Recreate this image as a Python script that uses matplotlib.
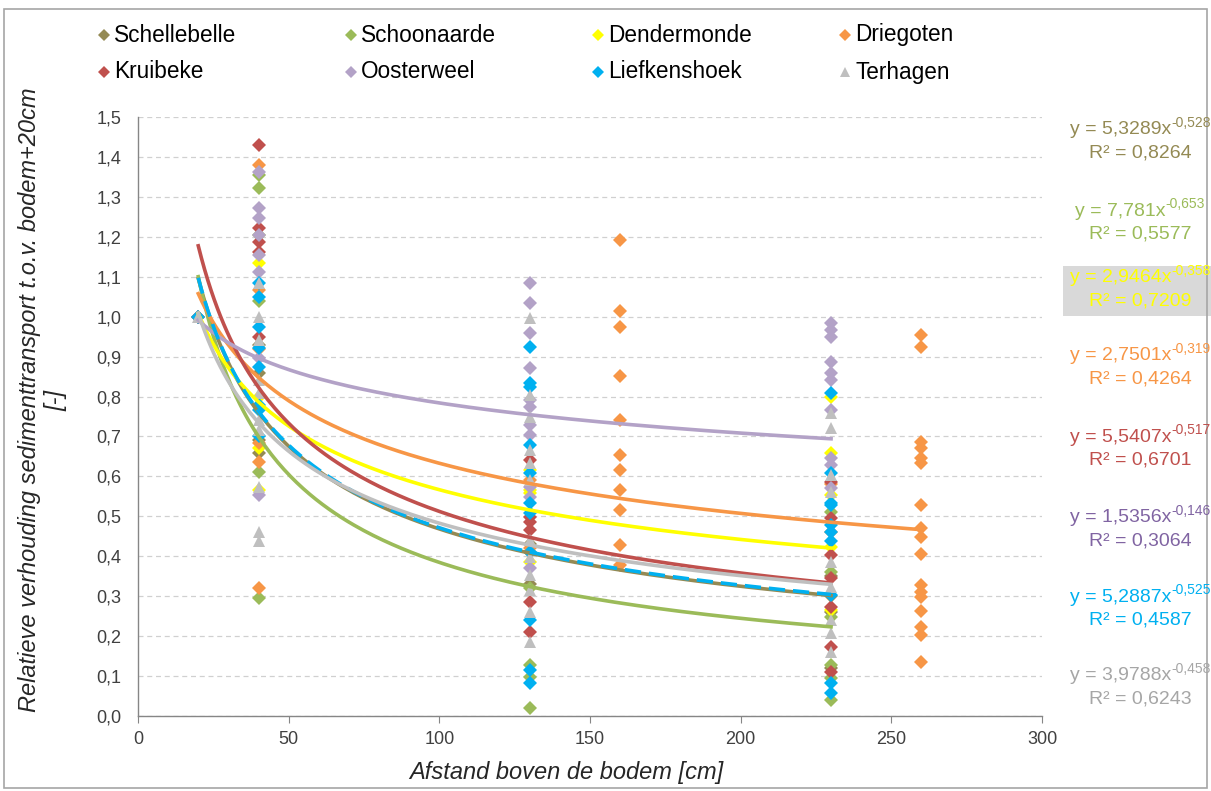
import numpy as np
import matplotlib
matplotlib.use("Agg")
import matplotlib.pyplot as plt
from matplotlib.lines import Line2D
from matplotlib.patches import Rectangle

plt.rcParams['font.family'] = ['Liberation Sans', 'DejaVu Sans']

# ---- measurement stations ----
stations = ["Schellebelle", "Schoonaarde", "Dendermonde", "Driegoten",
            "Kruibeke", "Oosterweel", "Liefkenshoek", "Terhagen"]
marker_colors = ["#948A54", "#9BBB59", "#FFFF00", "#F79646",
                 "#C0504D", "#B3A2C7", "#00B0F0", "#BFBFBF"]
text_colors = ["#948A54", "#9BBB59", "#FFFF00", "#F79646",
               "#C0504D", "#8064A2", "#00B0F0", "#A6A6A6"]
markers = ["D", "D", "D", "D", "D", "D", "D", "^"]

# ---- measured ratios per height above bed (cm) ----
schellebelle = {20: [1.0], 40: [0.658, 0.86, 0.93, 0.69], 130: [0.33, 0.43, 0.41],
                230: [0.26, 0.30, 0.35, 0.12]}
schoonaarde = {20: [1.0], 40: [1.355, 1.322, 1.205, 1.038, 0.612, 0.295],
               130: [0.128, 0.098, 0.019, 0.32], 230: [0.512, 0.361, 0.249, 0.128, 0.094, 0.040]}
dendermonde = {20: [1.0], 40: [1.134, 0.671, 0.566, 0.80], 130: [0.616, 0.566, 0.558, 0.386],
               230: [0.800, 0.658, 0.553, 0.424, 0.265]}
driegoten = {20: [1.0], 40: [1.380, 1.067, 0.92, 0.683, 0.637, 0.320], 130: [0.59, 0.42],
             160: [1.192, 1.015, 0.975, 0.852, 0.741, 0.654, 0.616, 0.566, 0.516, 0.428, 0.378],
             230: [0.58, 0.46],
             260: [0.955, 0.925, 0.687, 0.670, 0.645, 0.634, 0.528, 0.470, 0.449, 0.406,
                   0.328, 0.311, 0.299, 0.264, 0.224, 0.203, 0.134]}
kruibeke = {20: [1.0], 40: [1.430, 1.221, 1.188, 1.163, 0.95],
            130: [0.641, 0.499, 0.487, 0.466, 0.286, 0.211],
            230: [0.587, 0.495, 0.403, 0.345, 0.274, 0.174, 0.111]}
oosterweel = {20: [1.0], 40: [1.363, 1.271, 1.246, 1.205, 1.155, 1.113, 0.896, 0.553],
              130: [1.084, 1.034, 0.958, 0.871, 0.791, 0.775, 0.729, 0.704, 0.574, 0.549, 0.370],
              230: [0.983, 0.967, 0.950, 0.887, 0.858, 0.841, 0.766, 0.645, 0.629, 0.570]}
liefkenshoek = {20: [1.0], 40: [1.084, 1.05, 0.975, 0.921, 0.875, 0.766, 0.70, 0.78],
                130: [0.925, 0.833, 0.825, 0.679, 0.608, 0.533, 0.508, 0.411, 0.240, 0.115, 0.082],
                230: [0.808, 0.608, 0.533, 0.528, 0.478, 0.46, 0.437, 0.303, 0.082, 0.057]}
terhagen = {20: [1.0], 40: [1.084, 1.0, 0.942, 0.841, 0.81, 0.74, 0.716, 0.574, 0.462, 0.437],
            130: [0.996, 0.804, 0.750, 0.666, 0.634, 0.591, 0.441, 0.399, 0.353, 0.316, 0.261, 0.186],
            230: [0.758, 0.720, 0.604, 0.562, 0.386, 0.324, 0.240, 0.207, 0.161]}
series_data = [schellebelle, schoonaarde, dendermonde, driegoten,
               kruibeke, oosterweel, liefkenshoek, terhagen]

# ---- power-law trend lines y = a * x^b ----
coef_a = [5.3289, 7.781, 2.9464, 2.7501, 5.5407, 1.5356, 5.2887, 3.9788]
coef_b = [-0.528, -0.653, -0.358, -0.319, -0.517, -0.146, -0.525, -0.458]
a_text = ["5,3289", "7,781", "2,9464", "2,7501", "5,5407", "1,5356", "5,2887", "3,9788"]
b_text = ["-0,528", "-0,653", "-0,358", "-0,319", "-0,517", "-0,146", "-0,525", "-0,458"]
r2_text = ["0,8264", "0,5577", "0,7209", "0,4264", "0,6701", "0,3064", "0,4587", "0,6243"]

W, H = 1211, 791
fig = plt.figure(figsize=(W / 100, H / 100), dpi=100)
ax = fig.add_axes([138 / W, 1 - 716 / H, 904 / W, 599 / H])


def fx(px):
    return px / W


def fy(py):
    return 1 - py / H


# outer chart frame
fig.patches.append(Rectangle((0.003, 0.004), 0.994, 0.985, transform=fig.transFigure,
                             fill=False, edgecolor="#A6A6A6", linewidth=1.2))

for i, data in enumerate(series_data):
    xs, ys = [], []
    for x, vals in data.items():
        xs += [x] * len(vals)
        ys += vals
    ms = 9 if markers[i] == "^" else 7.3
    ax.plot(xs, ys, linestyle="none", marker=markers[i], markersize=ms,
            markerfacecolor=marker_colors[i], markeredgecolor=marker_colors[i],
            markeredgewidth=0, zorder=3 + i * 0.01)

for i, data in enumerate(series_data):
    x_lo, x_hi = min(data), max(data)
    xx = np.linspace(x_lo, x_hi, 200)
    yy = coef_a[i] * xx ** coef_b[i]
    if stations[i] == "Liefkenshoek":
        ax.plot(xx, yy, color=marker_colors[i], linewidth=2.6, linestyle=(0, (4.5, 2.2)),
                zorder=5 + i * 0.01)
    else:
        ax.plot(xx, yy, color=marker_colors[i], linewidth=2.6, zorder=5 + i * 0.01)

ax.set_xlim(0, 300)
ax.set_ylim(0, 1.5)
ax.set_xticks(np.arange(0, 301, 50))
yt = np.round(np.arange(0, 1.51, 0.1), 1)
ax.set_yticks(yt)
ax.set_yticklabels([f"{v:.1f}".replace(".", ",") for v in yt])
ax.yaxis.grid(True, linestyle=(0, (4, 3)), color="#D0D0D0", linewidth=0.9)
ax.set_axisbelow(True)
for s in ["top", "right"]:
    ax.spines[s].set_visible(False)
for s in ["left", "bottom"]:
    ax.spines[s].set_color("#868686")
    ax.spines[s].set_linewidth(1.0)
ax.tick_params(axis="y", length=0, pad=12, labelsize=13, labelcolor="#404040")
ax.tick_params(axis="x", length=5, direction="out", color="#868686", pad=6,
               labelsize=13, labelcolor="#404040")

ax.set_xlabel("Afstand boven de bodem [cm]", fontsize=17, style="italic", color="#262626")
ax.xaxis.set_label_coords((566 - 138) / 904, -(773 - 716) / 599)
ax.xaxis.label.set_va("center")
ax.set_ylabel("Relatieve verhouding sedimenttransport t.o.v. bodem+20cm\n[-]",
              fontsize=17, style="italic", color="#262626", linespacing=1.2)
ax.yaxis.set_label_coords(-(138 - 43) / 904, (716 - 400) / 599)
ax.yaxis.label.set_va("center")

# legend: two rows of four entries
for i, name in enumerate(stations):
    row, col = divmod(i, 4)
    ly = 35 + 37 * row
    mx = 104 + 247 * col
    ms = 7 if markers[i] == "^" else 6
    fig.add_artist(Line2D([fx(mx)], [fy(ly)], linestyle="none", marker=markers[i],
                          markersize=ms, markerfacecolor=marker_colors[i],
                          markeredgewidth=0, transform=fig.transFigure))
    fig.text(fx(mx + 10), fy(ly), name, fontsize=16.3, color="#000000",
             va="center", ha="left")

# trend-line equations on the right
fig.canvas.draw()
renderer = fig.canvas.get_renderer()
eq_y = [130, 211, 278, 356, 437, 518, 597, 676]
cx = 1140
for i in range(len(stations)):
    if stations[i] == "Dendermonde":
        fig.patches.append(Rectangle((fx(1063), fy(316)), 148 / W, 50 / H,
                                     transform=fig.transFigure,
                                     facecolor="#D9D9D9", edgecolor="none", zorder=-1))
    main = fig.text(0, 0, f"y = {a_text[i]}x", fontsize=14, color=text_colors[i],
                    va="center", ha="left")
    sup = fig.text(0, 0, b_text[i], fontsize=10, color=text_colors[i],
                   va="center", ha="left")
    w1 = main.get_window_extent(renderer).width
    w2 = sup.get_window_extent(renderer).width
    x0 = cx - (w1 + w2) / 2
    main.set_position((fx(x0), fy(eq_y[i])))
    sup.set_position((fx(x0 + w1), fy(eq_y[i] - 7)))
    fig.text(fx(cx), fy(eq_y[i] + 23), f"R² = {r2_text[i]}", fontsize=14,
             color=text_colors[i], va="center", ha="center")

fig.savefig("out.png", dpi=100)
